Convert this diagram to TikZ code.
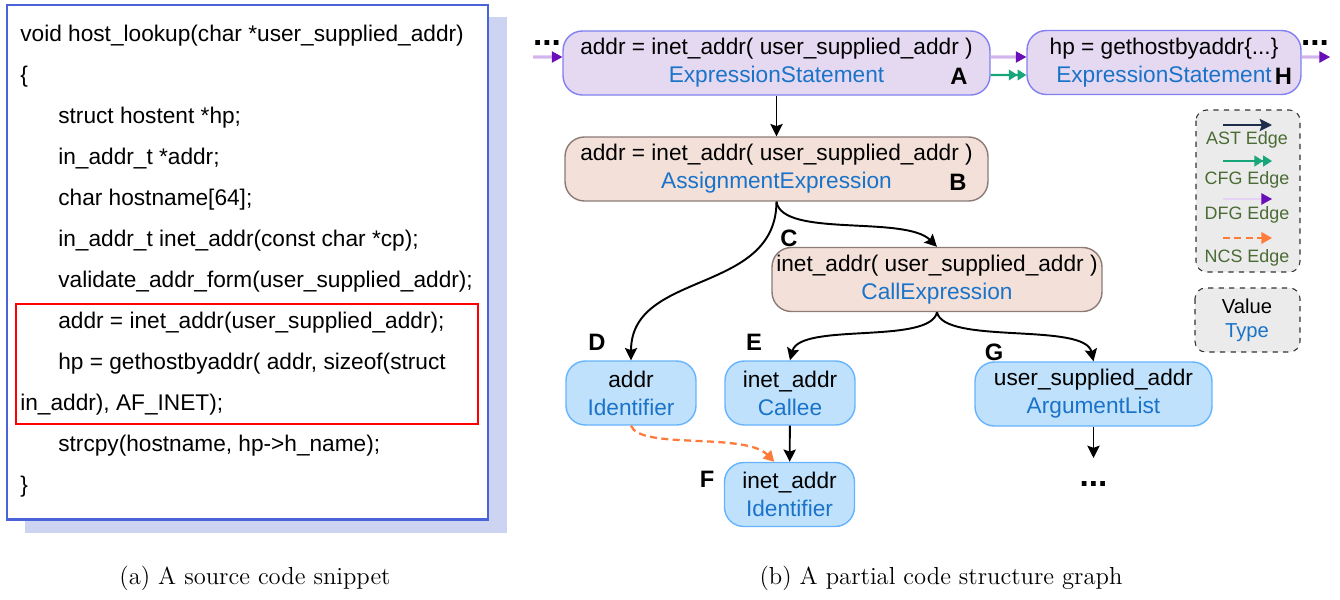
\documentclass[tikz,border=0pt]{standalone}
\usepackage{fontspec}
\setsansfont{Liberation Sans}
\usetikzlibrary{arrows.meta}
\definecolor{codeblue}{HTML}{4A63D9}
\definecolor{codeshade}{HTML}{CDD4F2}
\definecolor{typeblue}{HTML}{1A73C8}
\definecolor{stmtfill}{HTML}{E5D9F2}
\definecolor{stmtline}{HTML}{8080F0}
\definecolor{exprfill}{HTML}{F2E0D9}
\definecolor{exprline}{HTML}{8C7A75}
\definecolor{leaffill}{HTML}{BFE1FC}
\definecolor{leafline}{HTML}{66B3FF}
\definecolor{legfill}{HTML}{EBEBEB}
\definecolor{leggreen}{HTML}{4B6B35}
\definecolor{astcol}{HTML}{1C2E4A}
\definecolor{cfgcol}{HTML}{17A57A}
\definecolor{dfglight}{HTML}{B47FE0}
\definecolor{dfgdark}{HTML}{6A0FB8}
\definecolor{ncscol}{HTML}{FF7B3A}
\tikzset{
  codeln/.style={anchor=base west,inner sep=0pt},
  gnode/.style={rounded corners=11pt,align=center,inner sep=0pt,line width=.8pt,
    minimum height=1.28cm},
  stmt/.style={gnode,fill=stmtfill,draw=stmtline},
  expr/.style={gnode,fill=exprfill,draw=exprline},
  leaf/.style={gnode,fill=leaffill,draw=leafline,minimum width=2.6cm},
  tag/.style={font=\sffamily\bfseries\fontsize{13.5}{15}\selectfont,inner sep=0pt},
  more/.style={font=\sffamily\bfseries\fontsize{19}{20}\selectfont,anchor=base,inner sep=0pt},
  legbox/.style={draw=black!80,dashed,fill=legfill,rounded corners=6pt,line width=.6pt},
  legtxt/.style={text=leggreen,font=\sffamily\fontsize{10.2}{12}\selectfont,inner sep=0pt},
  ast/.style={line width=1.1pt,-{Stealth[length=7pt,width=7pt,inset=1.2pt]}},
  cfg/.style={cfgcol,line width=1.2pt,-{Triangle[length=5pt,width=6pt]Triangle[length=5pt,width=6pt]}},
  dfg/.style={draw=dfglight,double=dfglight!35,double distance=.7pt,line width=.5pt,
    -{Triangle[length=6pt,width=6.5pt,color=dfgdark,fill=dfgdark]}},
  ncs/.style={ncscol,line width=1.3pt,dash pattern=on 4pt off 2.5pt,-{Triangle[length=6pt,width=6.5pt]}}
}
\newcommand{\ty}[1]{\textcolor{typeblue}{#1}}
\begin{document}
\begin{tikzpicture}[x=0.02cm,y=-0.02cm,font=\sffamily\fontsize{12.9}{15.9}\selectfont]
\useasboundingbox (0,0) rectangle (1340,599);
% code listing
\fill[codeshade](25,17)rectangle(507,533);
\draw[codeblue,fill=white,line width=1.7pt](7,5)rectangle(488,519);
\foreach \ind/\txt [count=\k from 0] in {
  0/{void host\_lookup(char *user\_supplied\_addr)},
  0/{\{},
  1/{struct hostent *hp;},
  1/{in\_addr\_t *addr;},
  1/{char hostname[64];},
  1/{in\_addr\_t inet\_addr(const char *cp);},
  1/{validate\_addr\_form(user\_supplied\_addr);},
  1/{addr = inet\_addr(user\_supplied\_addr);},
  1/{hp = gethostbyaddr( addr, sizeof(struct},
  0/{in\_addr), AF\_INET);},
  1/{strcpy(hostname, hp->h\_name);},
  0/{\}}}
  \node[codeln](ln\k)at({20+38*\ind},{41.5+41*\k}){\txt};
\draw[red,line width=1.4pt](16,304)rectangle(478,424);
% graph
\node[stmt,minimum width=8.54cm](A)at(776.5,63){addr = inet\_addr( user\_supplied\_addr )\\\ty{ExpressionStatement}};
\node[stmt,minimum width=5.48cm](H)at(1164,62.5){hp = gethostbyaddr\{...\}\\\ty{ExpressionStatement}};
\node[expr,minimum width=8.46cm](B)at(776.5,169){addr = inet\_addr( user\_supplied\_addr )\\\ty{AssignmentExpression}};
\node[expr,minimum width=6.6cm](C)at(937,279.5){inet\_addr( user\_supplied\_addr )\\\ty{CallExpression}};
\node[leaf](D)at(631,393){addr\\\ty{Identifier}};
\node[leaf](E)at(790,393){inet\_addr\\\ty{Callee}};
\node[leaf](F)at(789.5,494.5){inet\_addr\\\ty{Identifier}};
\node[leaf,minimum width=4.74cm](G)at(1093.5,394){user\_supplied\_addr\\\ty{ArgumentList}};
\node[tag]at(959,76){A};
\node[tag]at(958,182){B};
\node[tag]at(789,238){C};
\node[tag]at(597,342){D};
\node[tag]at(754,342){E};
\node[tag]at(707,479){F};
\node[tag]at(994,352){G};
\node[tag]at(1283.5,76){H};
\node[more](ldots)at(547,45){...};
\node[more](rdots)at(1315,45){...};
\node[more](gdots)at(1093.5,486){...};
\coordinate(ain)at(533,57);
\coordinate(hout)at(1330,57);
\coordinate(gend)at(1093.5,458);
\draw[dfg](ain)--([yshift=.12cm]A.west);
\draw[dfg]([yshift=.12cm]A.east)--([yshift=.11cm]H.west);
\draw[cfg]([yshift=-.24cm]A.east)--([yshift=-.25cm]H.west);
\draw[dfg]([yshift=.11cm]H.east)--(hout);
\draw[ast](A)--(B);
\draw[ast](B.south)..controls(776,295)and(631,270)..(D.north);
\draw[ast](B.south)..controls(782,238)and(905,215)..(C.north);
\draw[ast](C.south)..controls(930,345)and(800,322)..(E.north);
\draw[ast](C.south)..controls(944,345)and(1085,322)..(G.north);
\draw[ast](E)--(F);
\draw[ast](G)--(gend);
\draw[ncs](D.south)..controls(640,450)and(745,432)..(F.115);
% legend
\draw[legbox](1196,110)rectangle(1300,272);
\draw[ast,astcol](1223,125)--(1272,125);
\node[legtxt](lgast)at(1247,140){AST Edge};
\draw[cfg](1223,161)--(1272,161);
\node[legtxt](lgcfg)at(1247,180){CFG Edge};
\draw[dfg](1223,199)--(1272,199);
\node[legtxt](lgdfg)at(1247,215){DFG Edge};
\draw[ncs](1223,238)--(1272,238);
\node[legtxt](lgncs)at(1247,258){NCS Edge};
\draw[legbox](1195,288)rectangle(1300,352);
\node[align=center,inner sep=0pt,font=\sffamily\fontsize{11.5}{13.5}\selectfont](lgval)at(1247,320){Value\\\ty{Type}};
% captions
\node[font=\rmfamily\fontsize{14}{16}\selectfont](capa)at(255,578){(a) A source code snippet};
\node[font=\rmfamily\fontsize{14}{16}\selectfont](capb)at(941,578){(b) A partial code structure graph};
\end{tikzpicture}
\end{document}
